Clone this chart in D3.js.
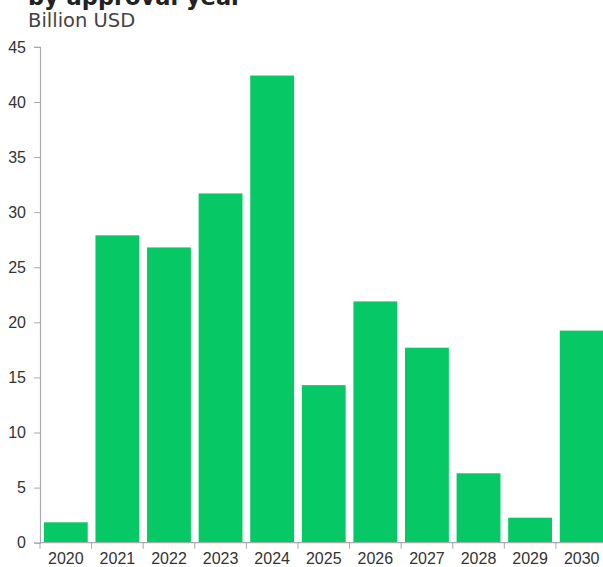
<!DOCTYPE html>
<html><head><meta charset="utf-8">
<script src="https://cdn.jsdelivr.net/npm/d3@7"></script>
<style>
html,body{margin:0;padding:0;background:#fff;overflow:hidden;}
</style></head>
<body>
<svg id="chart" width="603" height="567"></svg>
<script>
const years = ["2020","2021","2022","2023","2024","2025","2026","2027","2028","2029","2030"];
const values = [1.85, 27.9, 26.8, 31.7, 42.4, 14.3, 21.9, 17.7, 6.3, 2.27, 19.25];
const yTicks = [0,5,10,15,20,25,30,35,40,45];
const titleText = "by approval year";
const subtitleText = "Billion USD";

const svg = d3.select("#chart");
const x = d3.scaleBand().domain(years).range([40, 607.5]).paddingInner(0.15).paddingOuter(0.075);
const y = d3.scaleLinear().domain([0,45]).range([542.7, 46.9]);

svg.append("text").attr("x",28).attr("y",5).attr("font-family","DejaVu Sans").attr("font-weight","bold")
  .attr("font-size",22.5).attr("fill","#222").text(titleText);
svg.append("text").attr("x",28).attr("y",27).attr("font-family","DejaVu Sans")
  .attr("font-size",19.5).attr("fill","#444").text(subtitleText);

svg.selectAll("rect.bar").data(years).enter().append("rect").attr("class","bar")
  .attr("x",d=>x(d)).attr("width",x.bandwidth())
  .attr("y",(d,i)=>y(values[i])).attr("height",(d,i)=>y(0)-y(values[i]))
  .attr("fill","#06c864");

const yAxis = svg.append("g").attr("transform","translate(40,0)")
  .call(d3.axisLeft(y).tickValues(yTicks).tickSize(6).tickPadding(8));
const xAxis = svg.append("g").attr("transform",`translate(0,${y(0)})`)
  .call(d3.axisBottom(x).tickSize(0).tickPadding(10));
// tick marks at band boundaries
const step = x.step();
const bounds = years.map((d,i)=>x(d) - x.paddingInner()*step/2).concat([x(years[years.length-1])+x.bandwidth()+x.paddingInner()*step/2]);
svg.append("g").selectAll("line").data(bounds).enter().append("line")
  .attr("x1",d=>d).attr("x2",d=>d).attr("y1",y(0)).attr("y2",y(0)+6)
  .attr("stroke","#aaa").attr("stroke-width",1);

[yAxis,xAxis].forEach(g=>{
  g.selectAll("path.domain").attr("stroke","#aaa").attr("stroke-width",1.2);
  g.selectAll(".tick line").attr("stroke","#aaa");
  g.selectAll("text").attr("font-family","Liberation Sans, Arial").attr("font-size",16).attr("fill","#333");
});
xAxis.select("path.domain").attr("d",`M40,0H607.5`);
</script>
</body></html>
